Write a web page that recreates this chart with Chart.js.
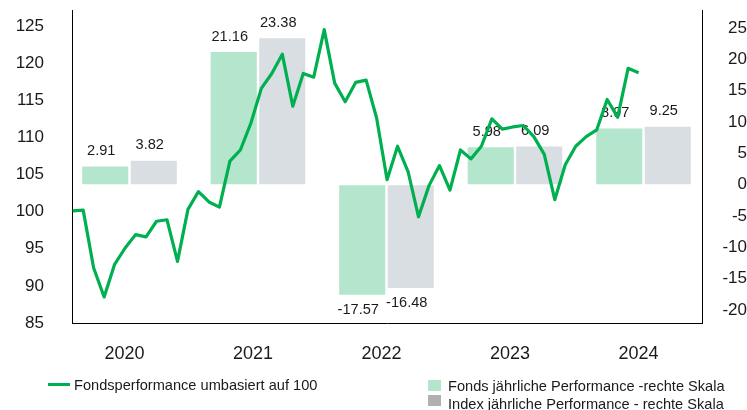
<!DOCTYPE html>
<html>
<head>
<meta charset="utf-8">
<script src="https://cdn.jsdelivr.net/npm/chart.js@4.4.1/dist/chart.umd.min.js"></script>
<style>
  body { margin: 0; background: #fff; }
  #wrap { position: relative; width: 747px; height: 410px; font-family: "Liberation Sans", Arial, sans-serif; }
  .leg { position: absolute; font-size: 14.6px; line-height: 18px; color: #1a1a1a; white-space: nowrap; }
  .sw { position: absolute; }
</style>
</head>
<body>
<div id="wrap">
  <canvas id="chart" width="747" height="410"></canvas>
  <!-- legend, laid out like the original (line item left, bar items stacked right) -->
  <div class="sw" style="left:48px;top:382.5px;width:22px;height:3.5px;background:#00b050"></div>
  <div class="leg" style="left:74px;top:376px">Fondsperformance umbasiert auf 100</div>
  <div class="sw" style="left:428px;top:380px;width:13px;height:11px;background:#b3e6cc"></div>
  <div class="leg" style="left:448px;top:377px">Fonds jährliche Performance -rechte Skala</div>
  <div class="sw" style="left:428px;top:395px;width:13px;height:11px;background:#b0b0b0"></div>
  <div class="leg" style="left:448px;top:394.5px">Index jährliche Performance - rechte Skala</div>
</div>
<script>
// data
const years = ['2020', '2021', '2022', '2023', '2024'];
const fundsAnnual = [2.91, 21.16, -17.57, 5.98, 8.97];
const indexAnnual = [3.82, 23.38, -16.48, 6.09, 9.25];

// monthly fund performance, rebased to 100
const fundsRebased = [
  100.1, 100.2, 92.4, 88.5, 92.9, 95.1, 96.9, 96.6, 98.7, 98.9, 93.3, 100.3,
  102.7, 101.3, 100.6, 106.8, 108.3, 111.9, 116.6, 118.6, 121.2, 114.2, 118.6, 118.1,
  124.5, 117.3, 114.8, 117.4, 117.7, 112.6, 104.3, 108.8, 105.4, 99.3, 103.5, 106.2,
  102.9, 108.3, 107.1, 108.8, 112.5, 111.1, 111.4, 111.6, 110.1, 107.7, 101.6, 106.3,
  108.8, 110.1, 111.0, 115.1, 112.7, 119.3, 118.7
];

const leftTicks = [85, 90, 95, 100, 105, 110, 115, 120, 125];
const rightTicks = [-20, -15, -10, -5, 0, 5, 10, 15, 20, 25];

const FONT = '"Liberation Sans", Arial, sans-serif';
const INK = '#1a1a1a';

// value labels above / below each bar (drawn before the line, so the line covers them)
const barLabels = {
  id: 'barLabels',
  afterDatasetDraw(chart, args) {
    const ds = chart.data.datasets[args.index];
    if (ds.type !== 'bar') return;
    const ctx = chart.ctx;
    ctx.save();
    ctx.font = '14.6px ' + FONT;
    ctx.fillStyle = INK;
    ctx.textAlign = 'center';
    ctx.textBaseline = 'middle';
    args.meta.data.forEach((el, i) => {
      const v = ds.data[i].y;
      const y = v >= 0 ? el.y - 15.5 : el.y + 15;
      ctx.fillText(v.toFixed(2), el.x - 4, y);
    });
    ctx.restore();
  }
};

// pin axis boxes so the plot area lands where it is in the reference
function fixWidth(w) {
  return function (scale) { scale.width = w; scale.paddingTop = 0; scale.paddingBottom = 0; };
}
function fixHeight(h) {
  return function (scale) { scale.height = h; scale.paddingLeft = 0; scale.paddingRight = 0; };
}

// NOTE: in this mixed chart the bar group is split in 4 slots (bars sit in the middle two),
// so categoryPercentage is doubled to get ~46px bars with a small gap
const BAR_CAT = 1.51;
const BAR_PCT = 0.95;

const chart = new Chart(document.getElementById('chart'), {
  data: {
    datasets: [
      {
        type: 'line',
        label: 'Fondsperformance umbasiert auf 100',
        data: fundsRebased.map((v, i) => ({ x: i, y: v })),
        xAxisID: 'xm',
        yAxisID: 'yL',
        borderColor: '#00b050',
        borderWidth: 3.2,
        borderJoinStyle: 'round',
        pointRadius: 0,
        tension: 0,
        order: 0
      },
      {
        type: 'bar',
        label: 'Fonds jährliche Performance -rechte Skala',
        data: fundsAnnual.map((v, i) => ({ x: i, y: v })),
        xAxisID: 'x',
        yAxisID: 'yR',
        backgroundColor: '#b3e6cc',
        categoryPercentage: BAR_CAT,
        barPercentage: BAR_PCT,
        order: 1
      },
      {
        type: 'bar',
        label: 'Index jährliche Performance - rechte Skala',
        data: indexAnnual.map((v, i) => ({ x: i, y: v })),
        xAxisID: 'x',
        yAxisID: 'yR',
        backgroundColor: '#d9dee2',
        categoryPercentage: BAR_CAT,
        barPercentage: BAR_PCT,
        order: 2
      }
    ]
  },
  options: {
    responsive: false,
    animation: false,
    layout: { padding: { top: 10, left: 0, right: 0, bottom: 0 } },
    plugins: {
      legend: { display: false },
      tooltip: { enabled: false }
    },
    scales: {
      x: {
        type: 'linear',
        position: 'bottom',
        offset: false,
        min: -0.4475,
        max: 4.4553,
        afterBuildTicks: s => { s.ticks = years.map((y, i) => ({ value: i })); },
        afterFit: fixHeight(87),
        grid: { display: true, offset: false, drawOnChartArea: false, drawTicks: false },
        border: { display: true, color: '#000', width: 1 },
        ticks: {
          stepSize: 1,
          includeBounds: false,
          callback: v => years[v],
          font: { family: FONT, size: 18 },
          color: INK,
          padding: 20,
          labelOffset: -5,
          maxRotation: 0,
          autoSkip: false
        }
      },
      xm: {
        type: 'linear',
        display: false,
        offset: false,
        min: -0.067,
        max: 60.05
      },
      yL: {
        type: 'linear',
        position: 'left',
        min: 85,
        max: 127.15,
        afterBuildTicks: s => { s.ticks = leftTicks.map(v => ({ value: v })); },
        afterFit: fixWidth(72),
        grid: { display: true, drawOnChartArea: false, drawTicks: false },
        border: { display: true, color: '#000', width: 1 },
        ticks: {
          font: { family: FONT, size: 17 },
          color: INK,
          padding: 28
        }
      },
      yR: {
        type: 'linear',
        position: 'right',
        min: -22.07,
        max: 27.87,
        afterBuildTicks: s => { s.ticks = rightTicks.map(v => ({ value: v })); },
        afterFit: fixWidth(45),
        grid: { display: true, drawOnChartArea: false, drawTicks: false },
        border: { display: true, color: '#000', width: 1 },
        ticks: {
          font: { family: FONT, size: 17 },
          color: INK,
          padding: 14,
          crossAlign: 'far'
        }
      }
    }
  },
  plugins: [barLabels]
});
</script>
</body>
</html>
